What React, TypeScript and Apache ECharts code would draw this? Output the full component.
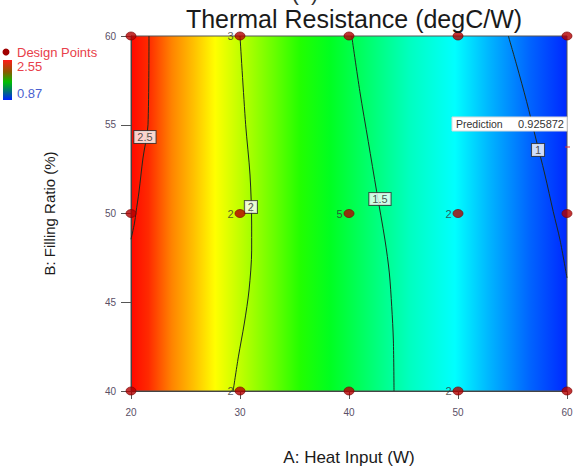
import React, { useEffect, useRef } from "react";
import * as echarts from "echarts";

// ---- data ----
const xTicks = [20, 30, 40, 50, 60];
const yTicks = [40, 45, 50, 55, 60];
const colorMax = 2.55;
const colorMin = 0.87;
const predictionValue = 0.925872;

// design points: [A: heat input, B: filling ratio, replicate count label]
const designPoints: [number, number, string][] = [
  [20, 60, ""], [30, 60, "3"], [40, 60, ""], [50, 60, ""], [60, 60, ""],
  [20, 50, ""], [30, 50, "2"], [40, 50, "5"], [50, 50, "2"], [60, 50, ""],
  [20, 40, ""], [30, 40, "2"], [40, 40, ""], [50, 40, "2"], [60, 40, ""],
];

// contour lines (A, B)
const contour25: [number, number][] = [
  [21.65, 60], [21.56, 55.0], [21.1, 53.13], [20.73, 51.21], [20.46, 50.08], [20.32, 49.46], [20.0, 48.55],
];
const contour2: [number, number][] = [
  [30.0, 60], [30.52, 55.0], [30.92, 52.17], [31.07, 49.35], [31.07, 47.94], [30.83, 45.69], [30.4, 43.83], [29.85, 41.92], [29.37, 40],
];
const contour15: [number, number][] = [
  [40.25, 60], [41.0, 56.86], [41.77, 54.05], [42.54, 51.23], [43.3, 48.51], [43.7, 46.65], [43.92, 44.75], [44.07, 42.87], [44.13, 40],
];
const contour1: [number, number][] = [
  [54.62, 60], [55.38, 58.37], [56.3, 56.3], [57.06, 54.42], [57.98, 52.17], [58.74, 50.1], [59.36, 48.51], [60, 46.37],
];
const contourLabels: [number, number, string][] = [
  [21.28, 54.31, "2.5"],
  [31.0, 50.37, "2"],
  [42.84, 50.82, "1.5"],
  [57.34, 53.58, "1"],
];

const FONT = "'Liberation Sans', Arial, sans-serif";

export default function App() {
  const ref = useRef<HTMLDivElement>(null);

  useEffect(() => {
    if (!ref.current) return;
    const chart = echarts.init(ref.current, undefined, { renderer: "svg" });

    const bg = new echarts.graphic.LinearGradient(0, 0, 1, 0, [
      { offset: 0, color: "#ff0800" },
      { offset: 0.04, color: "#ff2a00" },
      { offset: 0.094, color: "#ff8400" },
      { offset: 0.147, color: "#ffc400" },
      { offset: 0.193, color: "#ffff00" },
      { offset: 0.261, color: "#b4ff00" },
      { offset: 0.33, color: "#66ff00" },
      { offset: 0.388, color: "#22ff00" },
      { offset: 0.456, color: "#00ff20" },
      { offset: 0.548, color: "#00ff70" },
      { offset: 0.64, color: "#00ffc0" },
      { offset: 0.743, color: "#00ffff" },
      { offset: 0.823, color: "#00b4ff" },
      { offset: 0.915, color: "#0064ff" },
      { offset: 1, color: "#0028ff" },
    ]);

    const contourSeries = [contour25, contour2, contour15, contour1].map((c) => ({
      type: "line",
      data: c,
      symbol: "none",
      smooth: 0.3,
      lineStyle: { color: "#1e2a1e", width: 1 },
      z: 2,
      silent: true,
    }));

    const option: any = {
      animation: false,
      textStyle: { fontFamily: FONT },
      title: {
        text: "Thermal Resistance (degC/W)",
        left: 349,
        textAlign: "center",
        top: 1,
        textStyle: { fontSize: 25, fontWeight: "normal", color: "#1a1a1a", fontFamily: FONT },
      },
      grid: {
        left: 131,
        top: 36,
        width: 436,
        height: 355,
        show: true,
        backgroundColor: bg,
        borderColor: "#555",
        borderWidth: 1,
      },
      xAxis: {
        type: "value",
        min: xTicks[0],
        max: xTicks[xTicks.length - 1],
        interval: 10,
        name: "A: Heat Input (W)",
        nameLocation: "middle",
        nameGap: 58,
        nameTextStyle: { fontSize: 17, color: "#1a1a1a", fontFamily: FONT },
        axisLine: { show: true, onZero: false, lineStyle: { color: "#444", width: 1 } },
        axisTick: { show: true, length: 8, lineStyle: { color: "#555" } },
        axisLabel: { color: "#5a4f66", fontSize: 10, margin: 16, fontFamily: FONT },
        splitLine: { show: false },
      },
      yAxis: {
        type: "value",
        min: yTicks[0],
        max: yTicks[yTicks.length - 1],
        interval: 5,
        name: "B: Filling Ratio (%)",
        nameLocation: "middle",
        nameRotate: 90,
        nameGap: 74,
        nameTextStyle: { fontSize: 15, color: "#1a1a1a", fontFamily: FONT },
        axisLine: { show: true, onZero: false, lineStyle: { color: "#444", width: 1 } },
        axisTick: { show: true, length: 10, lineStyle: { color: "#555" } },
        axisLabel: { color: "#5a4f66", fontSize: 10, margin: 15, fontFamily: FONT },
        splitLine: { show: false },
      },
      series: [
        ...contourSeries,
        {
          type: "scatter",
          data: contourLabels,
          symbol: "rect",
          symbolSize: 1,
          itemStyle: { color: "rgba(0,0,0,0)" },
          z: 4,
          silent: true,
          label: {
            show: true,
            position: "inside",
            formatter: (p: any) => p.data[2],
            fontSize: 11,
            color: "#2a2a2a",
            backgroundColor: "#ffffff",
            borderColor: "#333",
            borderWidth: 1,
            padding: [1, 3, 0, 3],
            fontFamily: FONT,
          },
        },
        {
          type: "scatter",
          data: designPoints,
          symbol: "circle",
          symbolSize: [10, 8],
          clip: false,
          z: 5,
          silent: true,
          itemStyle: { color: "#b30000", borderColor: "#7a0000", borderWidth: 0.8 },
          label: {
            show: true,
            position: "left",
            distance: 1,
            formatter: (p: any) => p.data[2],
            fontSize: 11,
            color: "#333",
            fontFamily: FONT,
          },
        },
      ],
      graphic: [
        {
          type: "text",
          x: 305,
          y: 3,
          silent: true,
          style: { text: "(a)", fontSize: 22, fill: "#333", textAlign: "center", textVerticalAlign: "bottom", fontFamily: FONT },
        },
        { type: "circle", shape: { cx: 6, cy: 52, r: 3.5 }, style: { fill: "#a00000" }, silent: true },
        {
          type: "text",
          x: 17,
          y: 52,
          silent: true,
          style: { text: "Design Points", fontSize: 13, fill: "#e8404a", textVerticalAlign: "middle", fontFamily: FONT },
        },
        {
          type: "rect",
          shape: { x: 3, y: 60, width: 9, height: 40 },
          silent: true,
          style: {
            fill: new echarts.graphic.LinearGradient(0, 0, 0, 1, [
              { offset: 0, color: "#ff1a1a" },
              { offset: 0.3, color: "#8a5a00" },
              { offset: 0.55, color: "#00c000" },
              { offset: 0.8, color: "#006a80" },
              { offset: 1, color: "#0020ff" },
            ]),
          },
        },
        {
          type: "text",
          x: 17,
          y: 66,
          silent: true,
          style: { text: colorMax.toFixed(2), fontSize: 13, fill: "#e8404a", textVerticalAlign: "middle", fontFamily: FONT },
        },
        {
          type: "text",
          x: 17,
          y: 93,
          silent: true,
          style: { text: colorMin.toFixed(2), fontSize: 13, fill: "#4a5fd0", textVerticalAlign: "middle", fontFamily: FONT },
        },
        {
          type: "rect",
          shape: { x: 452, y: 117, width: 115, height: 14 },
          silent: true,
          z: 10,
          style: { fill: "#ffffff", stroke: "#d8d8d8", lineWidth: 1 },
        },
        {
          type: "text",
          x: 456,
          y: 124,
          silent: true,
          z: 11,
          style: {
            text: "Prediction",
            fontSize: 10.5,
            fill: "#333",
            textVerticalAlign: "middle",
            fontFamily: FONT,
          },
        },
        {
          type: "text",
          x: 564,
          y: 124,
          silent: true,
          z: 11,
          style: {
            text: predictionValue.toString(),
            fontSize: 11,
            fill: "#333",
            textAlign: "right",
            textVerticalAlign: "middle",
            fontFamily: FONT,
          },
        },
        {
          type: "line",
          shape: { x1: 565, y1: 147, x2: 570, y2: 147 },
          silent: true,
          z: 11,
          style: { stroke: "#e03030", lineWidth: 1 },
        },
      ],
    };

    chart.setOption(option);
    return () => chart.dispose();
  }, []);

  return (
    <div
      ref={ref}
      style={{ position: "absolute", left: 0, top: 0, width: 576, height: 473 }}
    />
  );
}
